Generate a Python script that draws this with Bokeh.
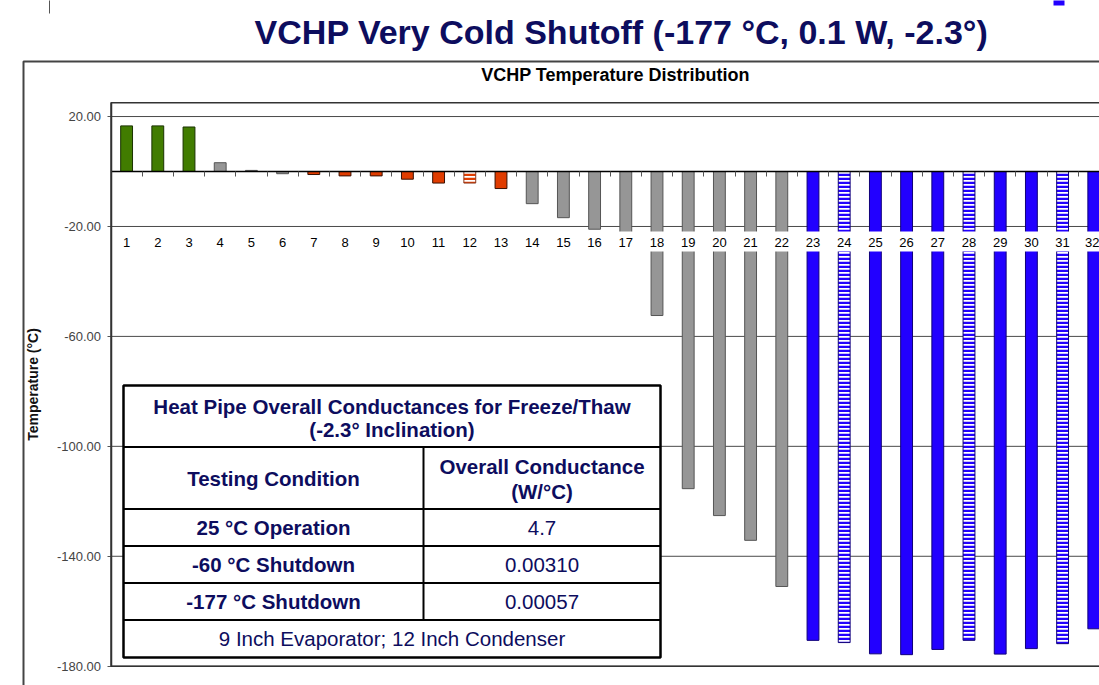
from bokeh.plotting import figure
from bokeh.models import (Range1d, FixedTicker, LinearAxis, BoxAnnotation, Label,
                          NumeralTickFormatter, ColumnDataSource)
from bokeh.embed import file_html
from bokeh.resources import INLINE

# ---------------- data ----------------
categories = list(range(1, 33))
temperatures = [16.6, 16.6, 16.2, 3.2, 0.4, -0.8, -1.1, -1.6, -1.6, -2.8, -4.2, -4.2,
                -6.2, -11.7, -16.8, -21.0, -24.0, -52.4, -115.4, -125.2, -134.2, -151.0,
                -170.6, -171.4, -175.5, -175.8, -173.9, -170.6, -175.6, -173.6, -171.8, -166.4]
zones = (["evaporator"] * 3 + ["adiabatic"] * 3 + ["condenser"] * 5 + ["condenser_b"]
         + ["condenser"] + ["adiabatic"] * 9
         + ["reservoir", "reservoir_b", "reservoir", "reservoir", "reservoir", "reservoir_b",
            "reservoir", "reservoir", "reservoir_b", "reservoir"])
y_ticks = [20, -20, -60, -100, -140, -180]

main_title = "VCHP Very Cold Shutoff (-177 °C, 0.1 W, -2.3°)"
chart_title = "VCHP Temperature Distribution"
y_label = "Temperature (°C)"

table_title = ["Heat Pipe Overall Conductances for Freeze/Thaw", "(-2.3° Inclination)"]
col_header_1 = "Testing Condition"
col_header_2 = ["Overall Conductance", "(W/°C)"]
conditions = ["25 °C Operation", "-60 °C Shutdown", "-177 °C Shutdown"]
conductances = ["4.7", "0.00310", "0.00057"]
footnote = "9 Inch Evaporator; 12 Inch Condenser"

# ---------------- styles / layout ----------------
GREEN, GRAY, RED, BLUE = "#417C00", "#969696", "#E03C00", "#2200FF"
ZONE_STYLE = {
    "evaporator":  dict(fill=GREEN, line="#1A3300", hatch=" ", hcol=GREEN),
    "adiabatic":   dict(fill=GRAY, line="#555555", hatch=" ", hcol=GRAY),
    "condenser":   dict(fill=RED, line="#3A1000", hatch=" ", hcol=RED),
    "condenser_b": dict(fill="#FFFFFF", line="#8A3A20", hatch="-", hcol=RED),
    "reservoir":   dict(fill=BLUE, line="#10007A", hatch=" ", hcol=BLUE),
    "reservoir_b": dict(fill="#FFFFFF", line="#10007A", hatch="-", hcol=BLUE),
}
NAVY = "#0D0D5E"
SANS = "Liberation Sans"

W, H = 1099, 685
PLOT_L, PLOT_T, PLOT_B = 110.5, 102.3, 665.7   # plot area edges in pixels
CAT_PX = 31.2                                   # pixels per category
Y_MAX, Y_MIN = 25, -180                         # plot area value range
PPU = (PLOT_B - PLOT_T) / (Y_MAX - Y_MIN)
X_LO = 0.5 - PLOT_L / CAT_PX
X_HI = 0.5 + (W - PLOT_L) / CAT_PX
Y_HI = Y_MAX + PLOT_T / PPU
Y_LO = Y_MIN - (H - PLOT_B) / PPU

src = ColumnDataSource(dict(
    x=categories, top=temperatures,
    fill=[ZONE_STYLE[z]["fill"] for z in zones],
    line=[ZONE_STYLE[z]["line"] for z in zones],
    hatch=[ZONE_STYLE[z]["hatch"] for z in zones],
    hcol=[ZONE_STYLE[z]["hcol"] for z in zones],
))

p = figure(width=W, height=H, output_backend="svg", toolbar_location=None,
           x_range=Range1d(X_LO, X_HI), y_range=Range1d(Y_LO, Y_HI),
           x_axis_type=None, y_axis_type=None,
           min_border_left=0, min_border_right=0, min_border_top=0, min_border_bottom=0)
p.outline_line_color = None
p.background_fill_color = "white"
p.border_fill_color = "white"
p.xgrid.visible = False
p.ygrid.visible = False

# horizontal gridlines, drawn only across the plot area
grid_src = ColumnDataSource(dict(y=y_ticks))
p.segment(x0=0.5, x1=X_HI + 1, y0="y", y1="y", source=grid_src,
          line_color="#4a4a4a", line_width=1)

# bars
p.vbar(x="x", top="top", bottom=0, width=0.38, source=src,
       fill_color="fill", line_color="line", line_width=1,
       hatch_pattern="hatch", hatch_color="hcol", hatch_scale=4, hatch_weight=2.5)

# white band behind the category labels
p.add_layout(BoxAnnotation(left=0.5, top=-21.8, bottom=-29.1, fill_color="white",
                           fill_alpha=1, line_color=None, level="glyph"))

# plot area border
p.add_layout(BoxAnnotation(left=0.5, right=X_HI + 5, top=Y_MAX, bottom=Y_MIN,
                           fill_color=None, line_color="#333333", line_alpha=1, line_width=1.5))

# y axis
yaxis = LinearAxis(fixed_location=0.5, bounds=(Y_MIN, Y_MAX),
                   ticker=FixedTicker(ticks=y_ticks),
                   formatter=NumeralTickFormatter(format="0.00"),
                   axis_label=y_label,
                   axis_label_text_font=SANS, axis_label_text_font_style="bold",
                   axis_label_text_font_size="14px", axis_label_text_color="#111111",
                   axis_label_standoff=13,
                   major_label_text_font=SANS, major_label_text_font_size="13px",
                   major_label_text_color="#444444", major_label_standoff=6,
                   major_tick_in=0, major_tick_out=4, major_tick_line_color="#555555",
                   minor_tick_line_color=None,
                   axis_line_color="#333333", axis_line_width=1.5)
p.add_layout(yaxis, "left")

# category axis on the zero line: boundary ticks + category labels below
xaxis = LinearAxis(fixed_location=0, bounds=(0.5, X_HI + 1),
                   ticker=FixedTicker(ticks=categories, minor_ticks=[c + 0.5 for c in categories]),
                   major_tick_line_color=None, major_tick_out=0, major_tick_in=0,
                   minor_tick_line_color="#555555", minor_tick_out=5, minor_tick_in=0,
                   axis_line_color="black", axis_line_width=1.3,
                   major_label_standoff=61,
                   major_label_text_font=SANS, major_label_text_font_size="13px",
                   major_label_text_color="black")
p.add_layout(xaxis, "below")


def cbox(left, right, top, bottom, **kw):
    return BoxAnnotation(left=left, right=right, top=top, bottom=bottom,
                         left_units="canvas", right_units="canvas", top_units="canvas",
                         bottom_units="canvas", **kw)


def clabel(x, y, text, size, color, font=SANS, bold=True):
    p.add_layout(Label(x=x, y=y, x_units="canvas", y_units="canvas", text=text,
                       text_align="center", text_baseline="middle", text_font=font,
                       text_font_style="bold" if bold else "normal", text_font_size=size,
                       text_color=color))


# outer chart frame and slide fragments
p.add_layout(cbox(23, W + 50, 61, H + 50, fill_color=None, line_color="#444444",
                  line_alpha=1, line_width=2))
p.add_layout(cbox(48.5, 49.5, -2, 13, fill_color="#555555", fill_alpha=1, line_color=None))
p.add_layout(cbox(1053, 1064, -2, 5, fill_color=BLUE, fill_alpha=1, line_color=None))

# titles
clabel(621, 31, main_title, "34px", NAVY)
clabel(615, 74, chart_title, "18px", "black")

# table
T_L, T_R, T_T, T_B = 123, 660, 385, 657
COL = 423
ROWS = [446.5, 508.5, 545.5, 582.5, 619.5]
p.add_layout(cbox(T_L, T_R, T_T, T_B, fill_color="white", fill_alpha=1,
                  line_color="black", line_alpha=1, line_width=2.5))
for ry in ROWS:
    p.add_layout(cbox(T_L, T_R, ry - 1, ry + 1, fill_color="black", fill_alpha=1, line_color=None))
p.add_layout(cbox(COL - 1, COL + 1, ROWS[0], ROWS[-1], fill_color="black", fill_alpha=1,
                  line_color=None))

mid = (T_L + T_R) / 2
c1 = (T_L + COL) / 2
c2 = (COL + T_R) / 2
TS = "20.5px"
clabel(mid, 406, table_title[0], TS, NAVY)
clabel(mid, 429, table_title[1], TS, NAVY)
clabel(c1, 478, col_header_1, TS, NAVY)
clabel(c2, 466, col_header_2[0], TS, NAVY)
clabel(c2, 491, col_header_2[1], TS, NAVY)
for i, (cond, g) in enumerate(zip(conditions, conductances)):
    yy = (ROWS[i + 1] + ROWS[i + 2]) / 2
    clabel(c1, yy, cond, TS, NAVY)
    clabel(c2, yy, g, TS, NAVY, bold=False)
clabel(mid, (ROWS[-1] + T_B) / 2, footnote, TS, NAVY, bold=False)

open("out.html", "w").write(file_html(p, INLINE))
